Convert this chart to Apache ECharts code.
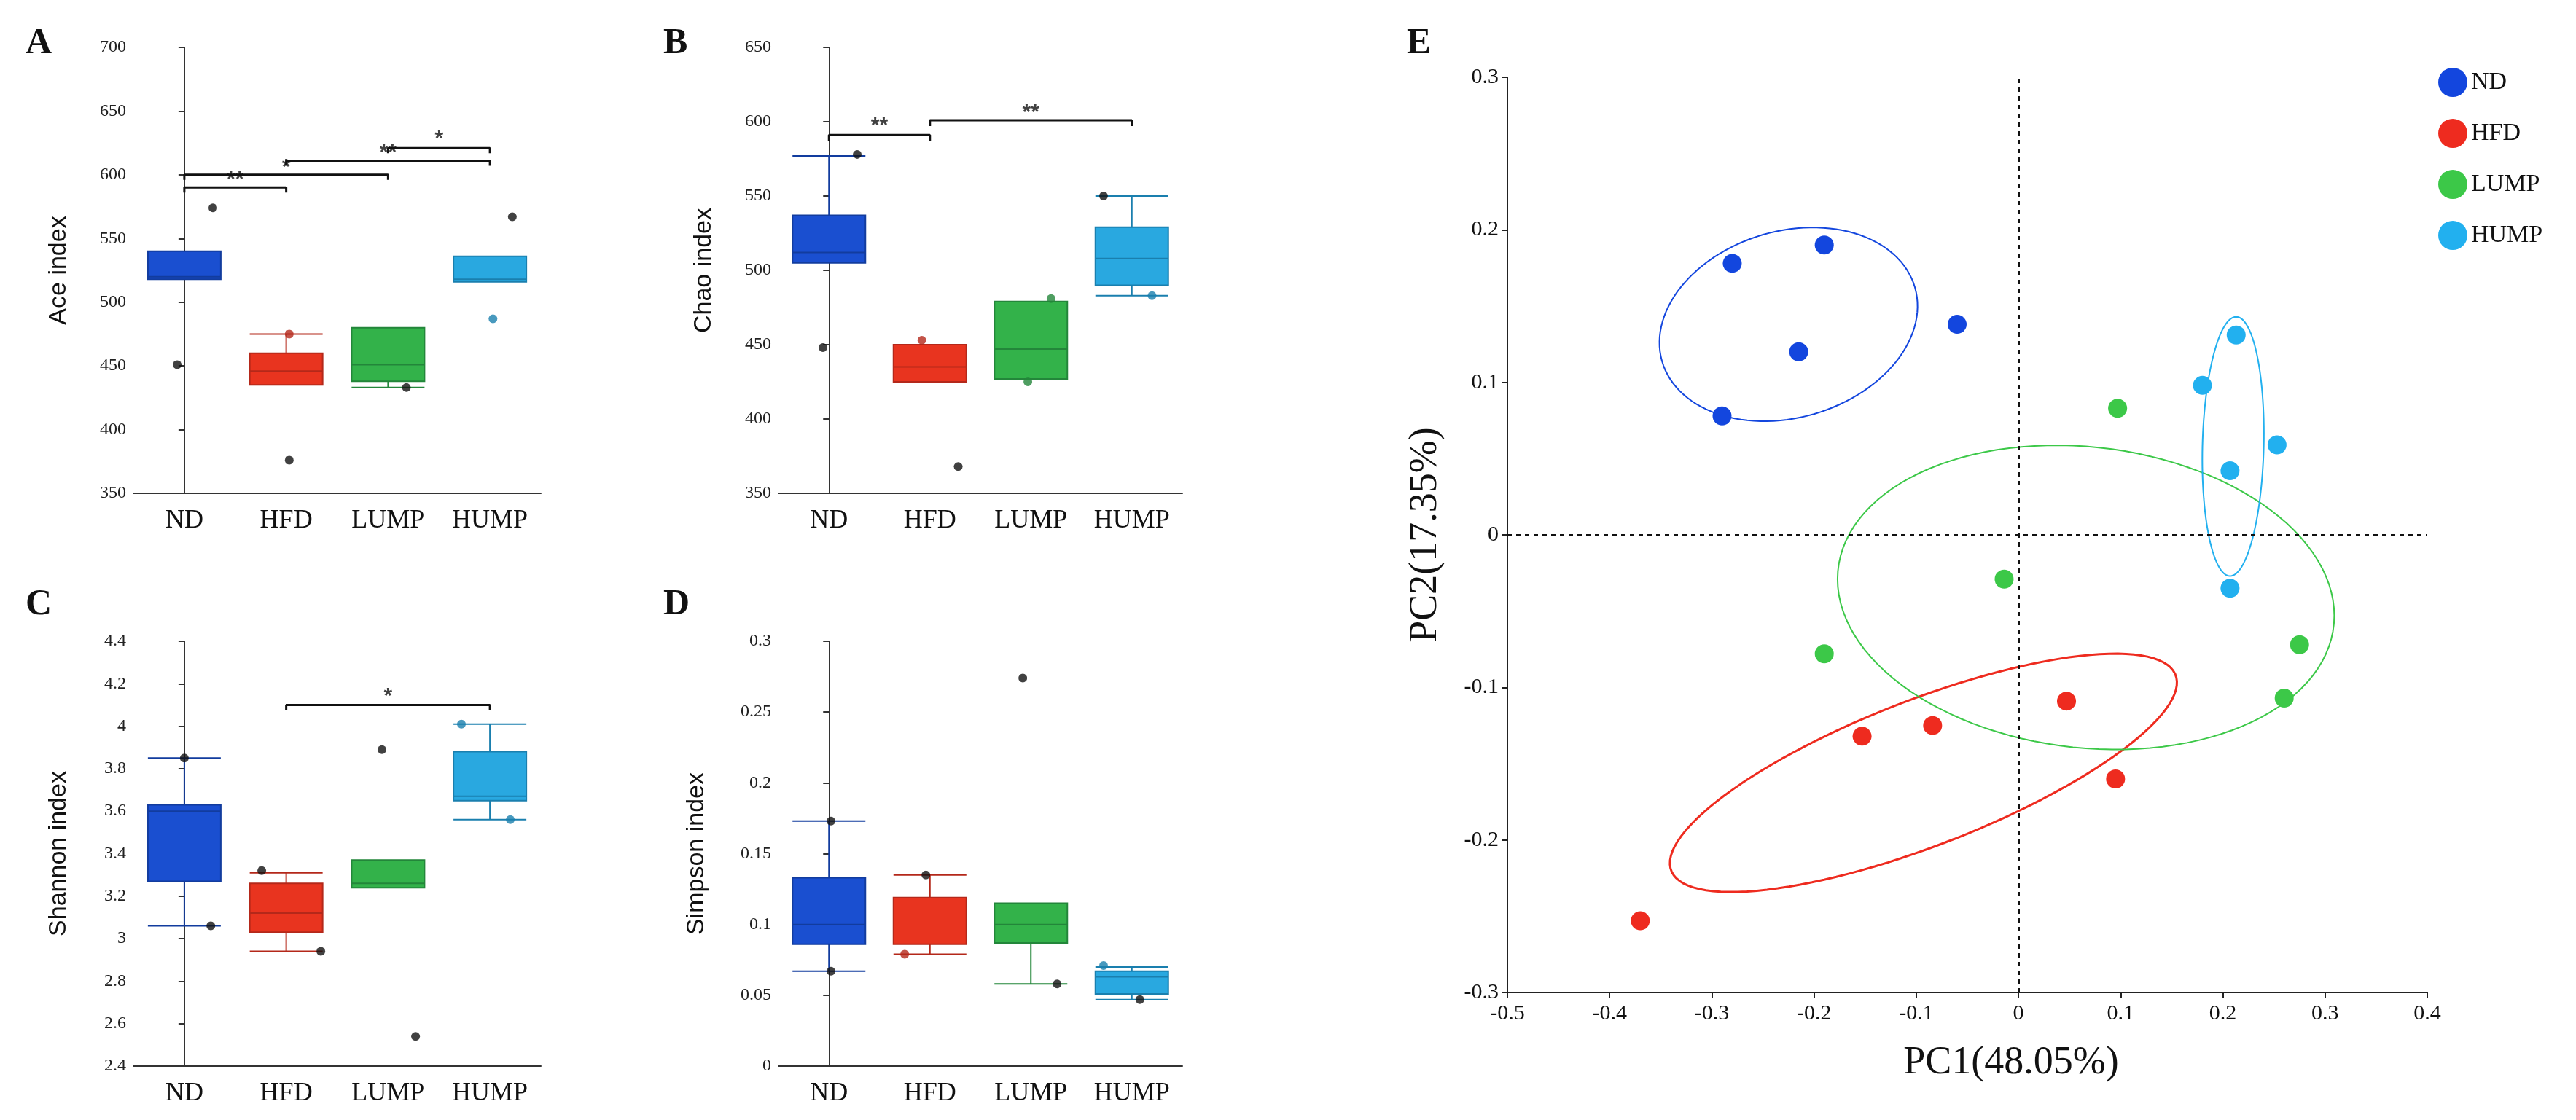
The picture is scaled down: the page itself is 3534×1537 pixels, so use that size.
<!DOCTYPE html>
<html>
<head>
<meta charset="utf-8">
<script src="https://cdn.jsdelivr.net/npm/echarts@6/dist/echarts.min.js"></script>
<style>html,body{margin:0;padding:0;background:#fff}#main{width:3534px;height:1537px}</style>
</head>
<body>
<div id="main"></div>
<script>
var groups = ['ND', 'HFD', 'LUMP', 'HUMP'];
var colors = ['#1a4fd0', '#e8341f', '#33b24a', '#29a8e0'];
var edges = ['#123c9e', '#b4281a', '#23863a', '#1a7fae'];

// box values: [min, Q1, median, Q3, max]
var aceBox = [[518, 518, 520, 540, 540], [435, 435, 446, 460, 475], [433, 438, 451, 480, 480], [516, 516, 518, 536, 536]];
var chaoBox = [[505, 505, 512, 537, 577], [425, 425, 435, 450, 450], [427, 427, 447, 479, 479], [483, 490, 508, 529, 550]];
var shannonBox = [[3.06, 3.27, 3.6, 3.63, 3.85], [2.94, 3.03, 3.12, 3.26, 3.31], [3.24, 3.24, 3.26, 3.37, 3.37], [3.56, 3.65, 3.67, 3.88, 4.01]];
var simpsonBox = [[0.067, 0.086, 0.1, 0.133, 0.173], [0.079, 0.086, 0.119, 0.119, 0.135], [0.058, 0.087, 0.1, 0.115, 0.115], [0.047, 0.051, 0.063, 0.067, 0.07]];

// outlier dots: [group, jitter, value, coloured(1) or black(0)]
var aceDots = [[0, 0.28, 574, 0], [0, -0.07, 451, 0], [1, 0.03, 475, 1], [1, 0.03, 376, 0], [2, 0.18, 433, 0], [3, 0.22, 567, 0], [3, 0.03, 487, 1]];
var chaoDots = [[0, 0.28, 578, 0], [0, -0.06, 448, 0], [1, -0.08, 453, 1], [1, 0.28, 368, 0], [2, 0.2, 481, 1], [2, -0.03, 425, 1], [3, -0.28, 550, 0], [3, 0.2, 483, 1]];
var shannonDots = [[0, 0.0, 3.85, 0], [0, 0.26, 3.06, 0], [1, -0.24, 3.32, 0], [1, 0.34, 2.94, 0], [2, -0.06, 3.89, 0], [2, 0.27, 2.54, 0], [3, -0.28, 4.01, 1], [3, 0.2, 3.56, 1]];
var simpsonDots = [[0, 0.02, 0.173, 0], [0, 0.02, 0.067, 0], [1, -0.25, 0.079, 1], [1, -0.04, 0.135, 0], [2, 0.26, 0.058, 0], [2, -0.08, 0.274, 0], [3, -0.28, 0.071, 1], [3, 0.08, 0.047, 0]];

// significance brackets: [from, to, y, label, label x, label y]
var aceSig = [[0, 1, 590, '**', 0.5, 596], [0, 2, 600, '', 0, 0], [1, 3, 611, '*', 1.0, 606], [2, 3, 621, '**', 2.0, 617], [2, 3, 621, '*', 2.5, 628]];
var chaoSig = [[0, 1, 591, '**', 0.5, 597], [1, 3, 601, '**', 2.0, 606]];
var shannonSig = [[1, 3, 4.1, '*', 2.0, 4.14]];
var simpsonSig = [];

var yNames = ['Ace index', 'Chao index', 'Shannon index', 'Simpson index'];
var yRanges = [[350, 700, 50], [350, 650, 50], [2.4, 4.4, 0.2], [0, 0.3, 0.05]];
var sigTick = [4, 4, 0.025, 0.005];

// PCoA points [PC1, PC2]
var pcND = [[-0.28, 0.178], [-0.19, 0.19], [-0.06, 0.138], [-0.215, 0.12], [-0.29, 0.078]];
var pcHFD = [[-0.37, -0.253], [-0.153, -0.132], [-0.084, -0.125], [0.047, -0.109], [0.095, -0.16]];
var pcLUMP = [[0.097, 0.083], [-0.014, -0.029], [-0.19, -0.078], [0.275, -0.072], [0.26, -0.107]];
var pcHUMP = [[0.213, 0.131], [0.18, 0.098], [0.253, 0.059], [0.207, 0.042], [0.207, -0.035]];
// confidence ellipses: [cx, cy, ux, uy, vx, vy]
var ellipses = [[-0.225, 0.138, 0.126, 0.008, 0.008, 0.063], [-0.093, -0.156, 0.248, 0.06, -0.004, 0.05], [0.066, -0.041, 0.243, -0.012, 0, 0.099], [0.21, 0.058, 0.03, 0.0, 0.003, 0.085]];
var pcColors = ['#1346de', '#ee2b1f', '#3cc848', '#22b0ef'];

var boxData = [aceBox, chaoBox, shannonBox, simpsonBox];
var dotData = [aceDots, chaoDots, shannonDots, simpsonDots];
var sigData = [aceSig, chaoSig, shannonSig, simpsonSig];

var serif = 'Liberation Serif';
var gridPos = [
  {left: 183, right: 2792, top: 65, bottom: 860},
  {left: 1068, right: 1912, top: 65, bottom: 860},
  {left: 183, right: 2792, top: 880, bottom: 74},
  {left: 1068, right: 1912, top: 880, bottom: 74},
  {left: 2068, right: 204, top: 106, bottom: 175}
];

var xAxis = [], yAxis = [], series = [];

for (let p = 0; p < 4; p++) {
  let labelled = sigData[p].filter(function (s) { return s[3]; });
  xAxis.push({
    type: 'category', gridIndex: p, data: groups,
    axisLine: {lineStyle: {color: '#333', width: 2}},
    axisTick: {alignWithLabel: true, length: 8, lineStyle: {color: '#333', width: 2}},
    axisLabel: {fontFamily: serif, fontSize: 36, color: '#111', margin: 20}
  });
  xAxis.push({type: 'value', gridIndex: p, min: -0.5, max: 3.5, show: false});
  yAxis.push({
    type: 'value', gridIndex: p, min: yRanges[p][0], max: yRanges[p][1], interval: yRanges[p][2],
    name: yNames[p], nameLocation: 'middle', nameGap: p === 3 ? 95 : 85,
    nameTextStyle: {fontFamily: 'Liberation Sans', fontSize: 34, color: '#111'},
    splitLine: {show: false},
    axisLine: {show: true, lineStyle: {color: '#333', width: 2}},
    axisTick: {show: true, length: 8, lineStyle: {color: '#333', width: 2}},
    axisLabel: {fontFamily: serif, fontSize: 24, color: '#222', margin: 10,
      formatter: function (v) { return +v.toFixed(3) + ''; }}
  });

  series.push({
    type: 'boxplot', xAxisIndex: 2 * p, yAxisIndex: p, boxWidth: [100, 100],
    data: boxData[p].map(function (b, i) {
      return {value: b, itemStyle: {color: colors[i], borderColor: edges[i], borderWidth: 2}};
    })
  });
  series.push({
    type: 'scatter', xAxisIndex: 2 * p + 1, yAxisIndex: p, symbolSize: 12, z: 5,
    data: dotData[p].map(function (d) {
      return {value: [d[0] + d[1], d[2]], itemStyle: {color: d[3] ? edges[d[0]] : '#111'}};
    })
  });
  let br = [];
  sigData[p].forEach(function (s) {
    var t = sigTick[p];
    br.push([s[0], s[2] - t], [s[0], s[2]], [s[1], s[2]], [s[1], s[2] - t], [null, null]);
  });
  series.push({
    type: 'line', xAxisIndex: 2 * p + 1, yAxisIndex: p, data: br, symbol: 'none',
    connectNulls: false, lineStyle: {color: '#111', width: 3}, silent: true
  });
  series.push({
    type: 'scatter', xAxisIndex: 2 * p + 1, yAxisIndex: p, symbolSize: 1, silent: true,
    itemStyle: {color: 'rgba(0,0,0,0)'},
    data: labelled.map(function (s) { return [s[4], s[5]]; }),
    label: {show: true, position: 'inside', fontSize: 30, fontWeight: 'bold', color: '#111',
      formatter: function (o) { return labelled[o.dataIndex][3]; }}
  });
}

// panel E
xAxis.push({
  type: 'value', gridIndex: 4, min: -0.5, max: 0.4, interval: 0.1,
  name: 'PC1(48.05%)', nameLocation: 'middle', nameGap: 70,
  nameTextStyle: {fontFamily: serif, fontSize: 54, color: '#111', padding: [0, 0, 0, 120]},
  splitLine: {show: false},
  axisLine: {onZero: false, lineStyle: {color: '#222', width: 2}},
  axisTick: {length: 8, lineStyle: {color: '#222', width: 2}},
  axisLabel: {fontFamily: serif, fontSize: 30, color: '#111', margin: 14,
    formatter: function (v) { return +v.toFixed(2) + ''; }}
});
yAxis.push({
  type: 'value', gridIndex: 4, min: -0.3, max: 0.3, interval: 0.1,
  name: 'PC2(17.35%)', nameLocation: 'middle', nameGap: 85,
  nameTextStyle: {fontFamily: serif, fontSize: 54, color: '#111'},
  splitLine: {show: false},
  axisLine: {onZero: false, lineStyle: {color: '#222', width: 2}},
  axisTick: {length: 8, lineStyle: {color: '#222', width: 2}},
  axisLabel: {fontFamily: serif, fontSize: 30, color: '#111', margin: 12,
    formatter: function (v) { return +v.toFixed(2) + ''; }}
});

var pcSets = [pcND, pcHFD, pcLUMP, pcHUMP];
pcSets.forEach(function (pts, i) {
  var e = ellipses[i], ring = [];
  for (var k = 0; k <= 120; k++) {
    var t = k / 120 * Math.PI * 2;
    ring.push([e[0] + e[2] * Math.cos(t) + e[4] * Math.sin(t), e[1] + e[3] * Math.cos(t) + e[5] * Math.sin(t)]);
  }
  series.push({
    type: 'line', xAxisIndex: 8, yAxisIndex: 4, data: ring, symbol: 'none',
    lineStyle: {color: pcColors[i], width: i === 1 ? 3 : 2}, silent: true
  });
  series.push({
    name: groups[i], type: 'scatter', xAxisIndex: 8, yAxisIndex: 4, data: pts,
    symbolSize: 26, itemStyle: {color: pcColors[i], opacity: 1}, z: 5,
    markLine: i === 0 ? {
      silent: true, symbol: 'none', label: {show: false},
      lineStyle: {type: [6, 6], color: '#111', width: 3},
      data: [{xAxis: 0}, {yAxis: 0}]
    } : undefined
  });
});

var letters = [['A', 30, 30], ['B', 905, 30], ['C', 30, 800], ['D', 905, 800], ['E', 1925, 30]];

var chart = echarts.init(document.getElementById('main'));
chart.setOption({
  backgroundColor: '#fff',
  animation: false,
  title: letters.map(function (l) {
    return {text: l[0], left: l[1], top: l[2], textStyle: {fontFamily: serif, fontSize: 50, fontWeight: 'bold', color: '#111'}};
  }),
  legend: {
    data: groups, orient: 'vertical', left: 3340, top: 88, itemGap: 30,
    icon: 'circle', itemWidth: 40, itemHeight: 40,
    textStyle: {fontFamily: serif, fontSize: 34, color: '#111'}
  },
  grid: gridPos,
  xAxis: xAxis,
  yAxis: yAxis,
  series: series
});
</script>
</body>
</html>
